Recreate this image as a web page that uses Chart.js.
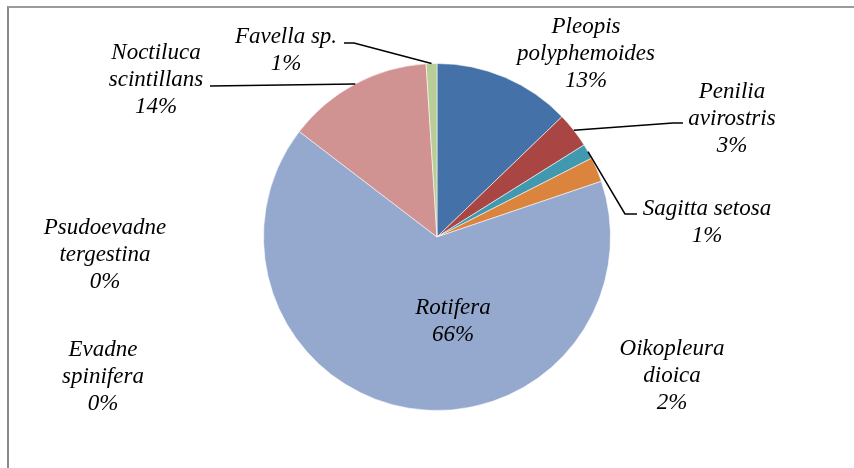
<!DOCTYPE html>
<html>
<head>
<meta charset="utf-8">
<script src="https://cdn.jsdelivr.net/npm/chart.js@4/dist/chart.umd.min.js"></script>
<style>
  html, body { margin: 0; padding: 0; background: #fff; }
  #wrap { position: relative; width: 854px; height: 468px; overflow: hidden; }
  /* outer chart frame: only the top and left edges fall inside the view */
  #frame { position: absolute; left: 7px; top: 6px; width: 900px; height: 520px;
           border-top: 2px solid #9a9a9a; border-left: 2px solid #8a8a8a; }
  canvas { position: absolute; left: 0; top: 0; }
</style>
</head>
<body>
<div id="wrap">
  <div id="frame"></div>
  <canvas id="pie" width="854" height="468"></canvas>
</div>
<script>
// zooplankton composition, % of total abundance
const labelLines = [
  ['Pleopis', 'polyphemoides'],
  ['Penilia', 'avirostris'],
  ['Sagitta setosa'],
  ['Oikopleura', 'dioica'],
  ['Rotifera'],
  ['Evadne', 'spinifera'],
  ['Psudoevadne', 'tergestina'],
  ['Noctiluca', 'scintillans'],
  ['Favella sp.'],
];
const species = labelLines.map(l => l.join(' '));
const shares = [12.8, 3.3, 1.4, 2.3, 65.6, 0, 0, 13.6, 1.0];
const colors = ['#4472a8', '#a94543', '#4199af', '#db843d', '#95a9cf',
                '#7f63a1', '#f59d56', '#d19392', '#b9cd96'];

// where each data label sits (centre of first line) and its leader line, if any
const labelPlace = [
  { x: 586, y: 27 },
  { x: 732, y: 92,  leader: [[673, 123], [683, 123]] },
  { x: 707, y: 209, leader: [[625, 214], [637, 214]] },
  { x: 672, y: 349 },
  { x: 453, y: 308 },
  { x: 103, y: 350 },
  { x: 105, y: 228 },
  { x: 156, y: 53,  leader: [[210, 86]] },
  { x: 286, y: 37,  leader: [[354, 43], [344, 43]] },
];

const LINE_H = 27;
const total = shares.reduce((a, b) => a + b, 0);

const dataLabels = {
  id: 'dataLabels',
  afterDatasetsDraw(chart) {
    const ctx = chart.ctx;
    const arcs = chart.getDatasetMeta(0).data;
    ctx.save();
    // leader lines from the rim of the slice
    ctx.strokeStyle = '#000';
    ctx.lineWidth = 1.5;
    labelPlace.forEach((p, i) => {
      if (!p.leader) return;
      const a = arcs[i];
      const mid = (a.startAngle + a.endAngle) / 2;
      ctx.beginPath();
      ctx.moveTo(a.x + Math.cos(mid) * a.outerRadius, a.y + Math.sin(mid) * a.outerRadius);
      p.leader.forEach(([x, y]) => ctx.lineTo(x, y));
      ctx.stroke();
    });
    ctx.fillStyle = '#000';
    ctx.font = 'italic 23px "Liberation Serif", "Times New Roman", serif';
    ctx.textAlign = 'center';
    ctx.textBaseline = 'middle';
    labelPlace.forEach((p, i) => {
      const lines = labelLines[i].concat(Math.round(shares[i] / total * 100) + '%');
      lines.forEach((t, k) => ctx.fillText(t, p.x, p.y + k * LINE_H));
    });
    ctx.restore();
  }
};

new Chart(document.getElementById('pie'), {
  type: 'pie',
  data: {
    labels: species,
    datasets: [{
      data: shares,
      backgroundColor: colors,
      borderColor: 'rgba(255,255,255,0.55)',
      borderWidth: c => (shares[c.dataIndex] === 0 ? 0 : 1),
    }]
  },
  options: {
    responsive: false,
    animation: false,
    layout: { padding: { top: 63, bottom: 57, left: 263, right: 243 } },
    plugins: { legend: { display: false }, tooltip: { enabled: false } },
  },
  plugins: [dataLabels],
});
</script>
</body>
</html>
